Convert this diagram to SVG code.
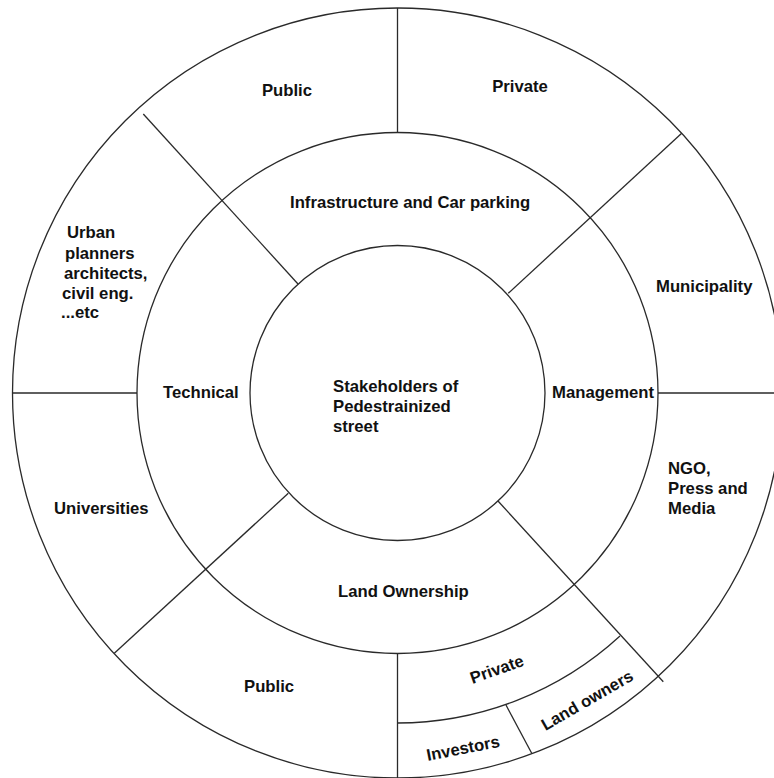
<svg xmlns="http://www.w3.org/2000/svg" width="774" height="778" viewBox="0 0 774 778">
  <style>
    .ring { fill: none; stroke: #2a2a2a; stroke-width: 1.3; }
    .div { stroke: #2a2a2a; stroke-width: 1.3; fill: none; }
    text { font-family: "Liberation Sans", Arial, sans-serif; font-weight: bold; font-size: 16.7px; fill: #111; }
    .c { text-anchor: middle; }
  </style>
  <rect width="774" height="778" fill="#ffffff"/>

  <!-- concentric rings -->
  <g id="rings">
    <circle class="ring" cx="397.5" cy="393" r="385"/>
    <circle class="ring" cx="397.5" cy="393" r="260.5"/>
    <circle class="ring" cx="397.5" cy="393" r="147.5"/>
  </g>

  <!-- radial and arc dividers between sectors -->
  <g id="connectors">
    <line class="div" x1="397.5" y1="8" x2="397.5" y2="132.5"/>
    <line class="div" x1="298" y1="284" x2="143.3" y2="114"/>
    <line class="div" x1="508.3" y1="293.3" x2="681.7" y2="133.3"/>
    <line class="div" x1="658" y1="393" x2="774" y2="393"/>
    <line class="div" x1="12.5" y1="393" x2="137" y2="393"/>
    <line class="div" x1="288.3" y1="493.3" x2="114.3" y2="653.3"/>
    <line class="div" x1="498" y1="501" x2="663.3" y2="681.7"/>
    <line class="div" x1="397.5" y1="653.5" x2="397.5" y2="778"/>
    <path class="div" d="M 397.5 723 A 330 330 0 0 0 620 636"/>
    <line class="div" x1="506" y1="705" x2="531.7" y2="753.3"/>
  </g>

  <g id="center">
    <text x="333" y="392">Stakeholders of</text>
    <text x="333" y="412">Pedestrainized</text>
    <text x="333" y="432">street</text>
  </g>

  <g id="infrastructure">
    <text x="290" y="208">Infrastructure and Car parking</text>
  </g>
  <g id="infra-public">
    <text class="c" x="287" y="96">Public</text>
  </g>
  <g id="infra-private">
    <text class="c" x="520" y="92">Private</text>
  </g>

  <g id="management">
    <text x="552" y="398">Management</text>
  </g>
  <g id="municipality">
    <text x="656" y="292">Municipality</text>
  </g>
  <g id="ngo">
    <text x="668" y="474">NGO,</text>
    <text x="668" y="494">Press and</text>
    <text x="668" y="514">Media</text>
  </g>

  <g id="technical">
    <text x="163" y="398">Technical</text>
  </g>
  <g id="urban-planners">
    <text x="67" y="238">Urban</text>
    <text x="65" y="259">planners</text>
    <text x="64" y="279">architects,</text>
    <text x="62" y="299">civil eng.</text>
    <text x="61" y="318">...etc</text>
  </g>
  <g id="universities">
    <text x="54" y="514">Universities</text>
  </g>

  <g id="land-ownership">
    <text x="338" y="597">Land Ownership</text>
  </g>
  <g id="land-public">
    <text x="244" y="692">Public</text>
  </g>
  <g id="land-private">
    <text class="c" transform="translate(496.7 669) rotate(-19.5)" y="6">Private</text>
  </g>
  <g id="land-owners">
    <text class="c" transform="translate(587 700) rotate(-30)" y="6">Land owners</text>
  </g>
  <g id="investors">
    <text class="c" transform="translate(463 748) rotate(-11)" y="6">Investors</text>
  </g>
</svg>
